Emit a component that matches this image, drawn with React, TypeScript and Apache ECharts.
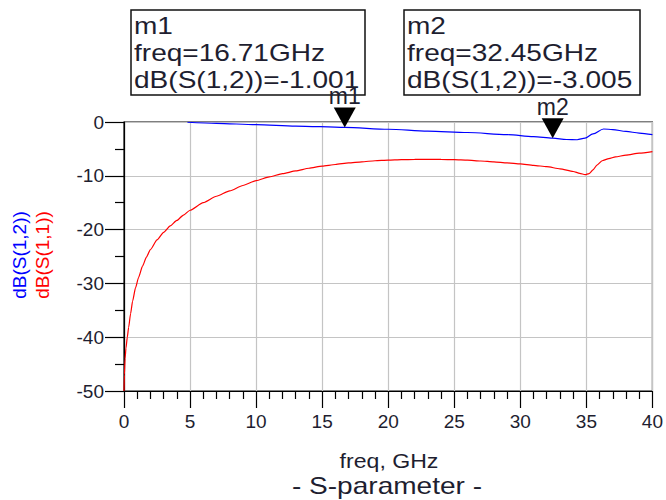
import React, { useEffect, useRef } from "react";
import * as echarts from "echarts";

const s11Freq = [0, 0.03, 0.08, 0.15, 0.25, 0.35, 0.5, 0.65, 0.875, 1.1, 1.4, 1.7, 2, 2.5, 3, 3.5, 4, 4.5, 5, 6, 7, 8, 9, 10, 11, 12, 13, 14, 15, 16, 17, 18, 19, 20, 21, 22, 23, 24, 25, 26, 27, 28, 29, 30, 31, 32, 33, 34, 34.5, 34.9, 35.2, 35.5, 35.8, 36.2, 36.7, 37.2, 38, 39, 40];
const s11Db = [-50, -47, -44, -42, -40, -38.2, -35.6, -33.3, -30.8, -28.9, -26.8, -25.1, -23.7, -21.9, -20.5, -19.3, -18.3, -17.3, -16.4, -15.0, -13.8, -12.8, -11.8, -10.9, -10.2, -9.6, -9.1, -8.6, -8.2, -7.9, -7.6, -7.4, -7.2, -7.1, -7.0, -6.95, -6.93, -6.95, -7.0, -7.1, -7.25, -7.4, -7.6, -7.8, -8.05, -8.3, -8.7, -9.2, -9.55, -9.8, -9.6, -8.9, -8.0, -7.2, -6.8, -6.5, -6.15, -5.8, -5.5];

const s12Freq = [4.8, 7, 10, 13, 16.71, 20, 23, 26, 29, 31, 32.45, 33.5, 34.3, 34.9, 35.5, 36.3, 37, 38, 39, 40];
const s12Db = [-0.05, -0.25, -0.5, -0.75, -1.0, -1.35, -1.7, -1.95, -2.35, -2.7, -3.0, -3.25, -3.3, -3.0, -2.2, -1.3, -1.4, -1.75, -2.05, -2.35];

const markerNames = ["m1", "m2"];
const markerFreq = [16.71, 32.45];
const markerDb = [-1.001, -3.005];

const xTicks = [0, 5, 10, 15, 20, 25, 30, 35, 40];
const yTicks = [0, -10, -20, -30, -40, -50];

const TEXT = "#1e1e30";
const FONT = "'Liberation Sans', Arial, sans-serif";

export default function App() {
  const ref = useRef<HTMLDivElement>(null);
  useEffect(() => {
    if (!ref.current) return;
    const chart = echarts.init(ref.current, undefined, { renderer: "svg" });
    const boxes = markerNames.map((n, i) => {
      const left = i === 0 ? 131 : 404;
      const w = i === 0 ? 234 : 236;
      return {
        type: "group",
        children: [
          { type: "rect", shape: { x: left, y: 10, width: w, height: 85 }, style: { fill: "#fff", stroke: "#111", lineWidth: 1.5 } },
          {
            type: "text",
            x: left + 3,
            y: 12,
            scaleX: 1.22,
            style: {
              text: `${n}\nfreq=${markerFreq[i].toFixed(2)}GHz\ndB(S(1,2))=${markerDb[i].toFixed(3)}`,
              font: `23px ${FONT}`,
              lineHeight: 27,
              fill: TEXT,
            },
          },
        ],
      };
    });
    chart.setOption({
      animation: false,
      backgroundColor: "#fff",
      grid: { left: 124, right: 12, top: 122, bottom: 109, show: true, borderColor: "#000", borderWidth: 1.2, backgroundColor: "transparent" },
      xAxis: {
        type: "value",
        min: xTicks[0],
        max: xTicks[xTicks.length - 1],
        interval: 5,
        axisLine: { onZero: false, lineStyle: { color: "#000", width: 1.2 } },
        axisTick: { show: true, inside: false, length: 17, lineStyle: { color: "#000", width: 1.2 } },
        minorTick: { show: true, splitNumber: 5, length: 8, lineStyle: { color: "#000", width: 1.2 } },
        splitLine: { show: true, lineStyle: { color: "#c4c4c4", width: 1.2 } },
        axisLabel: { color: TEXT, fontSize: 19, fontFamily: FONT, margin: 21 },
      },
      yAxis: {
        type: "value",
        min: yTicks[yTicks.length - 1],
        max: yTicks[0],
        interval: 10,
        axisLine: { show: true, onZero: false, lineStyle: { color: "#000", width: 1.2 } },
        axisTick: { show: true, inside: false, length: 19, lineStyle: { color: "#000", width: 1.2 } },
        minorTick: { show: true, splitNumber: 2, length: 9, lineStyle: { color: "#000", width: 1.2 } },
        splitLine: { show: true, lineStyle: { color: "#c4c4c4", width: 1.2 } },
        axisLabel: { color: TEXT, fontSize: 19, fontFamily: FONT, margin: 20 },
      },
      series: [
        {
          type: "line",
          name: "dB(S(1,1))",
          data: s11Freq.map((f, i) => [f, s11Db[i]]),
          showSymbol: false,
          smooth: 0.2,
          smoothMonotone: "x",
          lineStyle: { color: "#ff0000", width: 1.2 },
          z: 3,
        },
        {
          type: "line",
          name: "dB(S(1,2))",
          data: s12Freq.map((f, i) => [f, s12Db[i]]),
          showSymbol: false,
          smooth: 0.3,
          smoothMonotone: "x",
          lineStyle: { color: "#0000ff", width: 1.2 },
          z: 4,
        },
        {
          type: "scatter",
          data: markerFreq.map((f, i) => ({ value: [f, markerDb[i]], name: markerNames[i] })),
          symbol: "triangle",
          symbolRotate: 180,
          symbolSize: [22, 20],
          symbolOffset: [0, -10],
          itemStyle: { color: "#000", opacity: 1 },
          label: { show: true, position: "top", formatter: "{b}", color: TEXT, fontSize: 23, fontFamily: FONT, distance: 0 },
          z: 5,
        },
      ],
      graphic: [
        ...boxes,
        { type: "text", x: 19, y: 255, rotation: Math.PI / 2, style: { text: "dB(S(1,2))", font: `19px ${FONT}`, fill: "#0000ff", align: "center", verticalAlign: "middle" } },
        { type: "text", x: 42, y: 255, rotation: Math.PI / 2, style: { text: "dB(S(1,1))", font: `19px ${FONT}`, fill: "#ff0000", align: "center", verticalAlign: "middle" } },
        { type: "text", x: 389, y: 461, scaleX: 1.1, style: { text: "freq, GHz", font: `21px ${FONT}`, fill: TEXT, align: "center", verticalAlign: "middle" } },
        { type: "text", x: 387, y: 486, scaleX: 1.22, style: { text: "- S-parameter -", font: `23px ${FONT}`, fill: TEXT, align: "center", verticalAlign: "middle" } },
      ],
    });
    return () => chart.dispose();
  }, []);
  return <div ref={ref} style={{ width: 666, height: 500, position: "absolute", left: 0, top: 0 }} />;
}
